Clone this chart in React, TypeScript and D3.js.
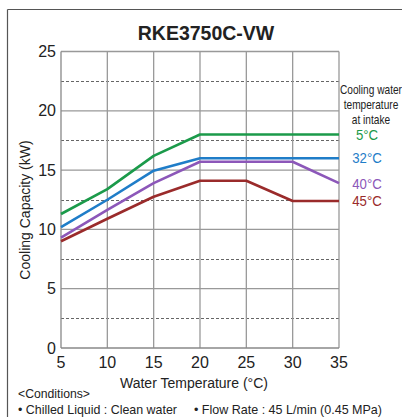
import React from "react";
import * as d3 from "d3";

const title = "RKE3750C-VW";
const xValues = [5, 10, 15, 20, 25, 30, 35];
const xTicks = [5, 10, 15, 20, 25, 30, 35];
const yTicks = [0, 5, 10, 15, 20, 25];
const yDashed = [2.5, 7.5, 12.5, 17.5, 22.5];
const seriesNames = ["5°C", "32°C", "40°C", "45°C"];
const seriesColors = ["#1b9a4a", "#1f7dc8", "#8c57b9", "#9a2b2b"];
const s5 = [11.3, 13.4, 16.2, 18.0, 18.0, 18.0, 18.0];
const s32 = [10.2, 12.5, 14.95, 16.0, 16.0, 16.0, 16.0];
const s40 = [9.3, 11.65, 13.9, 15.7, 15.7, 15.7, 13.9];
const s45 = [9.0, 10.9, 12.75, 14.1, 14.1, 12.4, 12.4];
const seriesValues = [s5, s32, s40, s45];
const legendTitle = ["Cooling water", "temperature", "at intake"];

export default function App() {
  const W = 402, H = 417;
  const x = d3.scaleLinear().domain([5, 35]).range([61, 339]);
  const y = d3.scaleLinear().domain([0, 25]).range([348, 51.5]);
  const line = d3.line<number>().x((_, i) => x(xValues[i])).y((d) => y(d));
  const font = "'Liberation Sans', Arial, sans-serif";
  const legendY = [134, 157, 183, 200];
  return (
    <svg width={W} height={H} style={{ position: "absolute", left: 0, top: 0 }} fontFamily={font}>
      <rect x={0} y={0} width={W} height={H} fill="#fff" />
      {/* outer frame */}
      <line x1={7.5} y1={9.5} x2={W} y2={9.5} stroke="#555" strokeWidth={1.2} />
      <line x1={7.5} y1={9.5} x2={7.5} y2={H} stroke="#555" strokeWidth={1.2} />
      <text x={206} y={39.5} textAnchor="middle" fontSize={19.5} fontWeight="bold" fill="#222">{title}</text>
      {/* grid */}
      {yDashed.map((v) => (
        <line key={"d" + v} x1={x(5)} x2={x(35)} y1={Math.round(y(v)) + 0.5} y2={Math.round(y(v)) + 0.5} stroke="#666" strokeWidth={1} strokeDasharray="3,2" />
      ))}
      {yTicks.filter((v) => v > 0).map((v) => (
        <line key={"h" + v} x1={x(5)} x2={x(35)} y1={y(v)} y2={y(v)} stroke="#999" strokeWidth={1.3} />
      ))}
      {xTicks.filter((v) => v > 5).map((v) => (
        <line key={"v" + v} x1={x(v)} x2={x(v)} y1={y(0)} y2={y(25)} stroke="#999" strokeWidth={1.3} />
      ))}
      <line x1={x(5)} x2={x(5)} y1={y(0)} y2={y(25)} stroke="#888" strokeWidth={1.3} />
      <line x1={x(5)} x2={x(35)} y1={y(0)} y2={y(0)} stroke="#888" strokeWidth={1.3} />
      {/* ticks labels */}
      {yTicks.map((v) => (
        <text key={"yt" + v} x={56} y={y(v) + 5.5} textAnchor="end" fontSize={16} fill="#222">{v}</text>
      ))}
      {xTicks.map((v) => (
        <text key={"xt" + v} x={x(v)} y={367.5} textAnchor="middle" fontSize={16} fill="#222">{v}</text>
      ))}
      <text x={194} y={388} textAnchor="middle" fontSize={14} fill="#222">Water Temperature (°C)</text>
      <text transform="translate(30,210) rotate(-90)" textAnchor="middle" fontSize={14} fill="#222">Cooling Capacity (kW)</text>
      {/* series */}
      {seriesValues.map((s, i) => (
        <path key={seriesNames[i]} d={line(s) || ""} fill="none" stroke={seriesColors[i]} strokeWidth={2.6} strokeLinejoin="round" />
      ))}
      {/* legend */}
      {legendTitle.map((t, i) => (
        <text key={t} transform={`translate(371,${94 + i * 15}) scale(0.78,1)`} textAnchor="middle" fontSize={13} fill="#222">{t}</text>
      ))}
      {seriesNames.map((n, i) => (
        <text key={"l" + n} transform={`translate(367,${legendY[i] + 5.5}) scale(0.88,1)`} textAnchor="middle" fontSize={15} fill={seriesColors[i]}>{n}</text>
      ))}
      {/* conditions */}
      <text x={18} y={398} fontSize={13} fill="#222" textLength={72} lengthAdjust="spacingAndGlyphs">{"<Conditions>"}</text>
      <text x={18} y={414} fontSize={13} fill="#222" textLength={159} lengthAdjust="spacingAndGlyphs">• Chilled Liquid : Clean water</text>
      <text x={194} y={414} fontSize={13} fill="#222" textLength={188} lengthAdjust="spacingAndGlyphs">• Flow Rate : 45 L/min (0.45 MPa)</text>
    </svg>
  );
}
